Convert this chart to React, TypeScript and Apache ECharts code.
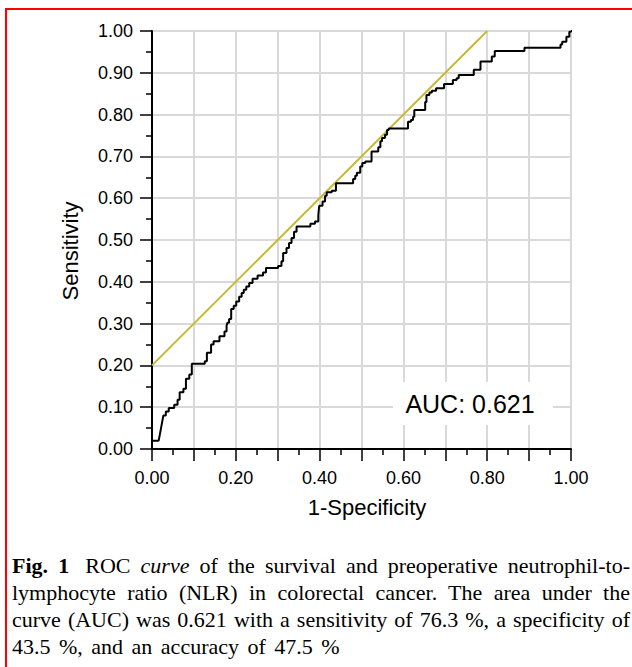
import React, { useEffect, useRef } from "react";
import * as echarts from "echarts";

// ROC curve vertices (1-Specificity, Sensitivity)
const fprValues = [
  0, 0, 0.016, 0.021, 0.027, 0.033, 0.033, 0.04, 0.04, 0.053, 0.053, 0.061, 0.061, 0.066, 0.066,
  0.075, 0.075, 0.081, 0.081, 0.089, 0.089, 0.095, 0.095, 0.126, 0.126, 0.131, 0.131, 0.141, 0.141,
  0.147, 0.147, 0.161, 0.161, 0.173, 0.173, 0.178, 0.178, 0.18, 0.184, 0.184, 0.189, 0.189, 0.195,
  0.195, 0.201, 0.201, 0.208, 0.208, 0.214, 0.214, 0.219, 0.219, 0.225, 0.225, 0.232, 0.232, 0.24,
  0.24, 0.252, 0.252, 0.265, 0.265, 0.272, 0.272, 0.301, 0.301, 0.309, 0.309, 0.313, 0.313, 0.321,
  0.321, 0.327, 0.327, 0.333, 0.333, 0.339, 0.339, 0.345, 0.345, 0.378, 0.378, 0.389, 0.389, 0.397,
  0.397, 0.399, 0.407, 0.407, 0.413, 0.413, 0.417, 0.417, 0.429, 0.429, 0.439, 0.439, 0.48, 0.48,
  0.485, 0.485, 0.489, 0.489, 0.497, 0.497, 0.502, 0.502, 0.509, 0.509, 0.524, 0.524, 0.54, 0.54,
  0.545, 0.545, 0.549, 0.549, 0.556, 0.556, 0.561, 0.561, 0.565, 0.565, 0.611, 0.611, 0.618, 0.618,
  0.623, 0.623, 0.626, 0.626, 0.652, 0.652, 0.655, 0.655, 0.662, 0.662, 0.668, 0.668, 0.678, 0.678,
  0.697, 0.697, 0.718, 0.718, 0.727, 0.727, 0.732, 0.732, 0.768, 0.768, 0.784, 0.784, 0.811, 0.811,
  0.818, 0.818, 0.889, 0.889, 0.975, 0.975, 0.979, 0.979, 0.989, 0.989, 0.996, 0.996, 1, 1,
];
const tprValues = [
  0, 0.02, 0.02, 0.047, 0.08, 0.08, 0.09, 0.09, 0.098, 0.098, 0.106, 0.106, 0.118, 0.118, 0.136,
  0.136, 0.144, 0.144, 0.168, 0.168, 0.178, 0.178, 0.204, 0.204, 0.21, 0.21, 0.23, 0.23, 0.25,
  0.25, 0.258, 0.258, 0.27, 0.27, 0.281, 0.281, 0.295, 0.302, 0.302, 0.311, 0.311, 0.335, 0.335,
  0.343, 0.343, 0.353, 0.353, 0.364, 0.364, 0.373, 0.373, 0.381, 0.381, 0.389, 0.389, 0.397, 0.397,
  0.407, 0.407, 0.415, 0.415, 0.422, 0.422, 0.433, 0.433, 0.438, 0.438, 0.449, 0.449, 0.469, 0.469,
  0.481, 0.481, 0.493, 0.493, 0.505, 0.505, 0.52, 0.52, 0.532, 0.532, 0.539, 0.539, 0.544, 0.544,
  0.56, 0.582, 0.582, 0.592, 0.592, 0.606, 0.606, 0.614, 0.614, 0.618, 0.618, 0.636, 0.636, 0.646,
  0.646, 0.654, 0.654, 0.661, 0.661, 0.676, 0.676, 0.684, 0.684, 0.688, 0.688, 0.712, 0.712, 0.722,
  0.722, 0.736, 0.736, 0.744, 0.744, 0.752, 0.752, 0.763, 0.763, 0.767, 0.767, 0.783, 0.783, 0.787,
  0.787, 0.795, 0.795, 0.811, 0.811, 0.83, 0.83, 0.847, 0.847, 0.853, 0.853, 0.857, 0.857, 0.863,
  0.863, 0.873, 0.873, 0.883, 0.883, 0.887, 0.887, 0.895, 0.895, 0.907, 0.907, 0.927, 0.927, 0.939,
  0.939, 0.952, 0.952, 0.96, 0.96, 0.968, 0.968, 0.974, 0.974, 0.986, 0.986, 0.998, 0.998, 1,
];

// Reference (tangent) line
const refLineX = [0, 0.8];
const refLineY = [0.2, 1.0];

const axisMin = 0;
const axisMax = 1;
const tickStep = 0.1;
const aucText = "AUC: 0.621";
const xTitle = "1-Specificity";
const yTitle = "Sensitivity";

const captionLines = [
  "lymphocyte ratio (NLR) in colorectal cancer. The area under the",
  "curve (AUC) was 0.621 with a sensitivity of 76.3 %, a specificity of",
  "43.5 %, and an accuracy of 47.5 %",
];

const SANS = "'Liberation Sans', Arial, Helvetica, sans-serif";
const SERIF = "'Liberation Serif', 'Times New Roman', Times, serif";

function Chart() {
  const ref = useRef<HTMLDivElement>(null);
  useEffect(() => {
    if (!ref.current) return;
    const chart = echarts.init(ref.current, undefined, { renderer: "svg" });
    const rocData = fprValues.map((x, i) => [x, tprValues[i]]);
    const refData = refLineX.map((x, i) => [x, refLineY[i]]);
    const axisCommon = {
      type: "value" as const,
      min: axisMin,
      max: axisMax,
      interval: tickStep,
      axisLine: { show: true, onZero: false, lineStyle: { color: "#000", width: 2 } },
      axisTick: { show: true, length: 12, lineStyle: { color: "#000", width: 1.5 } },
      minorTick: { show: true, splitNumber: 2, length: 6, lineStyle: { color: "#000", width: 1.5 } },
      splitLine: { show: true, lineStyle: { color: "#d9d9d9", width: 2 } },
    };
    chart.setOption({
      animation: false,
      backgroundColor: "#fff",
      grid: {
        left: 152,
        top: 31,
        width: 419,
        height: 418,
        show: true,
        borderColor: "#000",
        borderWidth: 2,
        backgroundColor: "transparent",
      },
      xAxis: {
        ...axisCommon,
        axisLabel: {
          margin: 20,
          color: "#000",
          fontSize: 18,
          fontFamily: SANS,
          formatter: (v: number) => (Math.round(v * 10) % 2 === 0 ? v.toFixed(2) : ""),
        },
      },
      yAxis: {
        ...axisCommon,
        axisLabel: {
          margin: 19,
          color: "#000",
          fontSize: 18,
          fontFamily: SANS,
          formatter: (v: number) => v.toFixed(2),
        },
      },
      series: [
        {
          type: "line",
          data: refData,
          symbol: "none",
          silent: true,
          lineStyle: { color: "#c8b834", width: 2 },
          z: 3,
        },
        {
          type: "line",
          data: rocData,
          symbol: "none",
          silent: true,
          lineStyle: { color: "#000", width: 2 },
          z: 4,
        },
      ],
      graphic: [
        {
          type: "rect",
          z: 100,
          shape: { x: 393, y: 382, width: 160, height: 43 },
          style: { fill: "#fff" },
        },
        {
          type: "text",
          z: 101,
          x: 470,
          y: 404,
          style: {
            text: aucText,
            fontSize: 25,
            fontFamily: SANS,
            fill: "#000",
            align: "center",
            verticalAlign: "middle",
          },
        },
        {
          type: "text",
          z: 101,
          x: 367,
          y: 507,
          style: {
            text: xTitle,
            fontSize: 22,
            fontFamily: SANS,
            fill: "#000",
            align: "center",
            verticalAlign: "middle",
          },
        },
        {
          type: "text",
          z: 101,
          x: 70,
          y: 251,
          rotation: Math.PI / 2,
          style: {
            text: yTitle,
            fontSize: 22,
            fontFamily: SANS,
            fill: "#000",
            align: "center",
            verticalAlign: "middle",
          },
        },
      ],
    });
    return () => chart.dispose();
  }, []);
  return <div ref={ref} style={{ position: "absolute", left: 0, top: 0, width: 632, height: 540 }} />;
}

export default function App() {
  const lineStyle: React.CSSProperties = {
    position: "absolute",
    left: 12,
    width: 618,
    whiteSpace: "nowrap",
    fontFamily: SERIF,
    fontSize: 22,
    lineHeight: "27px",
    color: "#000",
  };
  const justify: React.CSSProperties = { textAlign: "justify", textAlignLast: "justify" as any };
  return (
    <div
      style={{
        position: "fixed",
        left: 0,
        top: 0,
        width: 632,
        height: 667,
        background: "#fff",
        overflow: "hidden",
      }}
    >
      <Chart />
      <div style={{ position: "absolute", left: 5, top: 8, width: 700, height: 2, background: "#ff0000" }} />
      <div style={{ position: "absolute", left: 5, top: 8, width: 2, height: 700, background: "#ff0000" }} />
      <div style={{ ...lineStyle, ...justify, top: 552 }}>
        <b>Fig. 1</b>
        <span style={{ display: "inline-block", width: 6 }} /> ROC <i>curve</i> of the survival and preoperative neutrophil-to-
      </div>
      <div style={{ ...lineStyle, ...justify, top: 579 }}>{captionLines[0]}</div>
      <div style={{ ...lineStyle, ...justify, top: 606 }}>{captionLines[1]}</div>
      <div style={{ ...lineStyle, top: 633, wordSpacing: 3 }}>{captionLines[2]}</div>
    </div>
  );
}
